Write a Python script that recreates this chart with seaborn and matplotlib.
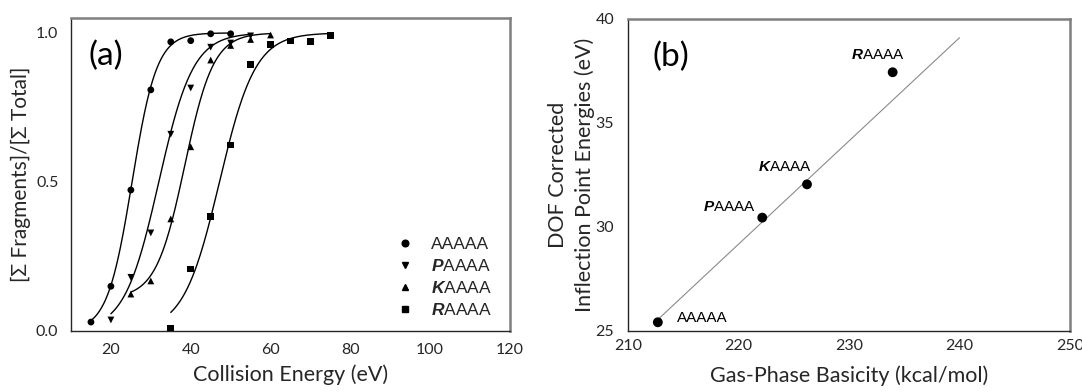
import numpy as np
import pandas as pd
import matplotlib
matplotlib.use("Agg")
import matplotlib.pyplot as plt
import seaborn as sns

# ---- data -------------------------------------------------------------
peptides = ["AAAAA", "PAAAA", "KAAAA", "RAAAA"]
legend_labels = ["AAAAA", r"$\mathbf{P}$AAAA", r"$\mathbf{K}$AAAA", r"$\mathbf{R}$AAAA"]

energy_a = [15, 20, 25, 30, 35, 40, 45, 50]
frac_a = [0.03, 0.15, 0.473, 0.809, 0.97, 0.974, 0.997, 0.997]

energy_p = [20, 25, 30, 35, 40, 45, 50, 55]
frac_p = [0.037, 0.18, 0.329, 0.66, 0.815, 0.952, 0.966, 0.99]

energy_k = [25, 30, 35, 40, 45, 50, 55, 60]
frac_k = [0.124, 0.168, 0.376, 0.618, 0.909, 0.958, 0.978, 0.993]

energy_r = [35, 40, 45, 50, 55, 60, 65, 70, 75]
frac_r = [0.01, 0.208, 0.383, 0.624, 0.894, 0.962, 0.973, 0.97, 0.99]

# sigmoid fit parameters: y = base + (1 - base) / (1 + exp(-(E - e50) / width))
fit_e50 = [25.3, 32.0, 38.5, 47.2]
fit_width = [3.1, 4.3, 3.6, 4.5]
fit_base = [0.0, 0.0, 0.11, 0.0]

# panel (b): gas-phase basicity vs. inflection point energy
gpb = [212.7, 222.15, 226.2, 233.95]
inflection = [25.42, 30.45, 32.05, 37.44]
trend_x = [212.6, 240.0]
trend_y = [25.5, 39.1]

# ---- style ------------------------------------------------------------
sns.set_theme(style="white")
plt.rcParams["font.family"] = ["Lato", "DejaVu Sans"]
plt.rcParams["mathtext.fontset"] = "custom"
plt.rcParams["mathtext.rm"] = "Liberation Sans"
plt.rcParams["mathtext.bf"] = "Liberation Sans:bold:italic"

energies = [energy_a, energy_p, energy_k, energy_r]
fracs = [frac_a, frac_p, frac_k, frac_r]
markers = ["o", "v", "^", "s"]

pts = pd.concat(
    [pd.DataFrame({"energy": e, "frac": f, "peptide": p})
     for e, f, p in zip(energies, fracs, peptides)],
    ignore_index=True,
)

curves = []
for e, p, e50, w, b in zip(energies, peptides, fit_e50, fit_width, fit_base):
    xs = np.linspace(min(e), max(e), 200)
    ys = b + (1 - b) / (1 + np.exp(-(xs - e50) / w))
    curves.append(pd.DataFrame({"energy": xs, "frac": ys, "peptide": p}))
curves = pd.concat(curves, ignore_index=True)

W, H = 1082, 392
fig = plt.figure(figsize=(W / 100, H / 100), dpi=100)
ax1 = fig.add_axes([71 / W, (H - 331) / H, 439 / W, 313 / H])
ax2 = fig.add_axes([628 / W, (H - 331) / H, 442 / W, 312 / H])

dark = "#262626"
frame = "#7f7f7f"
tick_size = 11.5
label_size = 15.5

# ---- panel (a) --------------------------------------------------------
sns.lineplot(data=curves, x="energy", y="frac", units="peptide", estimator=None,
             color="black", linewidth=1.0, ax=ax1, legend=False)
sns.scatterplot(data=pts, x="energy", y="frac", style="peptide",
                markers=dict(zip(peptides, markers)), color="black",
                s=24, edgecolor="none", ax=ax1, legend=False, zorder=3)

ax1.set_xlim(10, 120)
ax1.set_ylim(0, 1.05)
ax1.set_xticks([20, 40, 60, 80, 100, 120])
ax1.set_yticks([0.0, 0.5, 1.0])
ax1.set_yticklabels(["0.0", "0.5", "1.0"])
ax1.tick_params(axis="x", direction="in", length=5, width=1, color=dark,
                labelsize=tick_size, pad=9, colors=dark)
ax1.tick_params(axis="y", direction="out", length=4, width=1, color=dark,
                labelsize=tick_size, pad=5, colors=dark)
ax1.set_xlabel("Collision Energy (eV)", fontsize=label_size, color=dark, labelpad=5)
ax1.set_ylabel("[\u03a3 Fragments]/[\u03a3 Total]", fontsize=15, color=dark, labelpad=3.5)
ax1.text(0.04, 0.88, "(a)", transform=ax1.transAxes, fontsize=24, color="black",
         ha="left", va="center")

handles = [plt.Line2D([], [], linestyle="none", marker=m, color="black",
                      markersize=4.8) for m in markers]
leg = ax1.legend(handles, legend_labels, loc="lower right",
                 bbox_to_anchor=(0.995, -0.008), frameon=False,
                 handletextpad=1.0, labelspacing=0.35, handlelength=1.0,
                 prop={"family": "Liberation Sans", "size": 12.5})

# ---- panel (b) --------------------------------------------------------
sns.lineplot(x=trend_x, y=trend_y, color="#8a8a8a", linewidth=0.8, ax=ax2)
sns.scatterplot(x=gpb, y=inflection, color="black", s=50, edgecolor="none",
                ax=ax2, zorder=3)

label_x = [214.4, 221.55, 224.2, 232.6]
label_y = [25.63, 30.96, 32.88, 38.25]
label_ha = ["left", "right", "center", "center"]
for lx, ly, ha, txt in zip(label_x, label_y, label_ha, legend_labels):
    ax2.text(lx, ly, txt, ha=ha, va="center", fontsize=11,
             family="Liberation Sans", color="black")

ax2.set_xlim(210, 250)
ax2.set_ylim(25, 40)
ax2.set_xticks([210, 220, 230, 240, 250])
ax2.set_yticks([25, 30, 35, 40])
ax2.tick_params(axis="x", direction="inout", length=7, width=1, color=dark,
                labelsize=tick_size, pad=2, colors=dark)
ax2.tick_params(axis="y", direction="out", length=5, width=1, color=dark,
                labelsize=tick_size, pad=5, colors=dark)
ax2.set_xlabel("Gas-Phase Basicity (kcal/mol)", fontsize=label_size, color=dark,
               labelpad=9)
ax2.set_ylabel("DOF Corrected\nInflection Point Energies (eV)", fontsize=label_size,
               color=dark, labelpad=0.0, linespacing=1.4)
ax2.text(0.055, 0.88, "(b)", transform=ax2.transAxes, fontsize=24, color="black",
         ha="left", va="center")

for ax in (ax1, ax2):
    ax.spines["left"].set_color(dark)
    ax.spines["bottom"].set_color(dark)
    ax.spines["left"].set_linewidth(1.0)
    ax.spines["bottom"].set_linewidth(1.0)
    ax.spines["top"].set_color(frame)
    ax.spines["right"].set_color(frame)
    ax.spines["top"].set_linewidth(1.8)
    ax.spines["right"].set_linewidth(1.8)

fig.savefig("out.png", dpi=100, facecolor="white")
